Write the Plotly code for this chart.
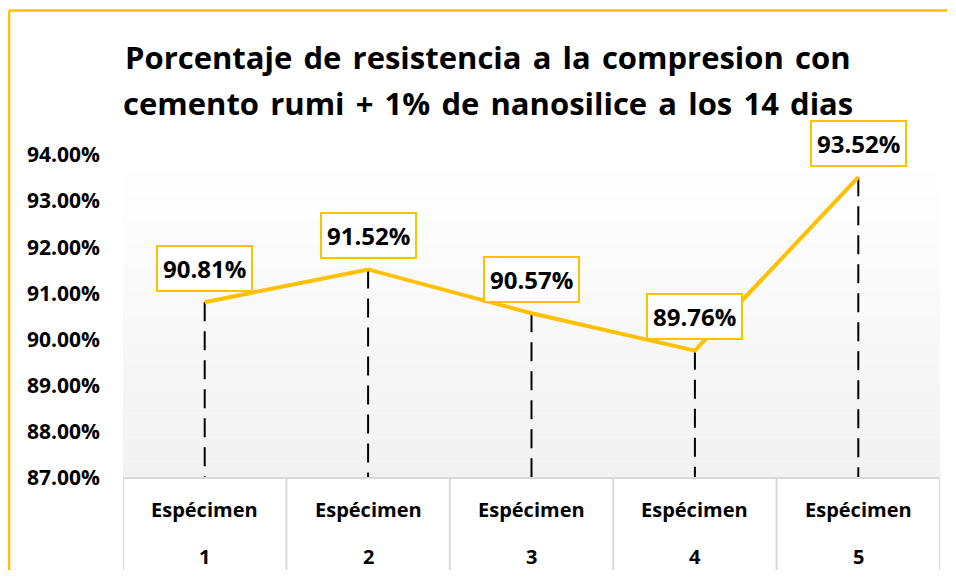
import plotly.graph_objects as go

categories = ["Espécimen 1", "Espécimen 2", "Espécimen 3", "Espécimen 4", "Espécimen 5"]
label_top = ["Espécimen", "Espécimen", "Espécimen", "Espécimen", "Espécimen"]
label_bottom = ["1", "2", "3", "4", "5"]
values = [90.81, 91.52, 90.57, 89.76, 93.52]
y_ticks = [87, 88, 89, 90, 91, 92, 93, 94]
y_min, y_max = 87, 94
title_lines = ["Porcentaje de resistencia a la compresion con",
               "cemento rumi + 1% de nanosilice a los 14 dias"]

GOLD = "#FFC000"
FONT = "Open Sans"

xs = list(range(len(categories)))
fig = go.Figure()

# dashed drop lines
for x, v in zip(xs, values):
    fig.add_trace(go.Scatter(x=[x, x], y=[v, y_min], mode="lines",
                             line=dict(color="black", width=2, dash="19px,10px"),
                             hoverinfo="skip", showlegend=False))

fig.add_trace(go.Scatter(x=xs, y=values, mode="lines",
                         line=dict(color=GOLD, width=4),
                         showlegend=False))

shapes = []
# gradient background
n = 40
for i in range(n):
    y0 = y_min + (y_max - y_min) * i / n
    y1 = y_min + (y_max - y_min) * (i + 1) / n
    t = (i + 0.5) / n
    g = round(242 + (255 - 242) * t)
    shapes.append(dict(type="rect", xref="paper", yref="y", x0=0, x1=1, y0=y0, y1=y1,
                       fillcolor=f"rgb({g},{g},{g})", line=dict(width=0), layer="below"))
# table lines
for k in range(len(categories) + 1):
    xv = k - 0.5
    shapes.append(dict(type="line", xref="x", yref="paper", x0=xv, x1=xv, y0=0, y1=-0.3,
                       line=dict(color="#d9d9d9", width=2)))
shapes.append(dict(type="line", xref="paper", yref="paper", x0=0, x1=1, y0=0, y1=0,
                   line=dict(color="#d9d9d9", width=2)))
# outer border (left and top edges visible)
shapes.append(dict(type="line", xref="paper", yref="paper", x0=-0.1395, x1=-0.1395, y0=-0.4, y1=1.447,
                   line=dict(color=GOLD, width=2.5)))
shapes.append(dict(type="line", xref="paper", yref="paper", x0=-0.1395, x1=1.009, y0=1.447, y1=1.447,
                   line=dict(color=GOLD, width=2.5)))

annotations = []
for x, v in zip(xs, values):
    annotations.append(dict(x=x, y=v, xref="x", yref="y", text=f"{v:.2f}%", showarrow=False,
                            yshift=34, xanchor="center", yanchor="middle",
                            font=dict(family=FONT, size=24, color="black", weight="bold"),
                            bgcolor="white", bordercolor=GOLD, borderwidth=2, borderpad=5))
for x, a, b in zip(xs, label_top, label_bottom):
    annotations.append(dict(x=x, y=-0.099, xref="x", yref="paper", text=a, showarrow=False,
                            xanchor="center", yanchor="middle",
                            font=dict(family=FONT, size=20, color="black", weight="bold")))
    annotations.append(dict(x=x, y=-0.243, xref="x", yref="paper", text=b, showarrow=False,
                            xanchor="center", yanchor="middle",
                            font=dict(family=FONT, size=20, color="black", weight="bold")))
for line, yp in zip(title_lines, [1.302, 1.1625]):
    annotations.append(dict(x=0.4468, y=yp, xref="paper", yref="paper",
                            text=line.replace(" ", " \u200a"), showarrow=False,
                            xanchor="center", yanchor="middle",
                            font=dict(family=FONT, size=31, color="black", weight="bold")))

fig.update_layout(
    width=940, height=562,
    margin=dict(l=115, r=8, t=147, b=92),
    paper_bgcolor="white", plot_bgcolor="white",
    xaxis=dict(range=[-0.5, 4.5], showticklabels=False, showgrid=False, zeroline=False,
               showline=False, ticks=""),
    yaxis=dict(range=[y_min, y_max], tickvals=y_ticks,
               ticktext=[f"{t:.2f}%" for t in y_ticks],
               showgrid=False, zeroline=False, showline=False, ticks="",
               ticklabelstandoff=22,
               tickfont=dict(family=FONT, size=21, color="black", weight="bold")),
    shapes=shapes, annotations=annotations,
)

fig.write_html("out.html")
